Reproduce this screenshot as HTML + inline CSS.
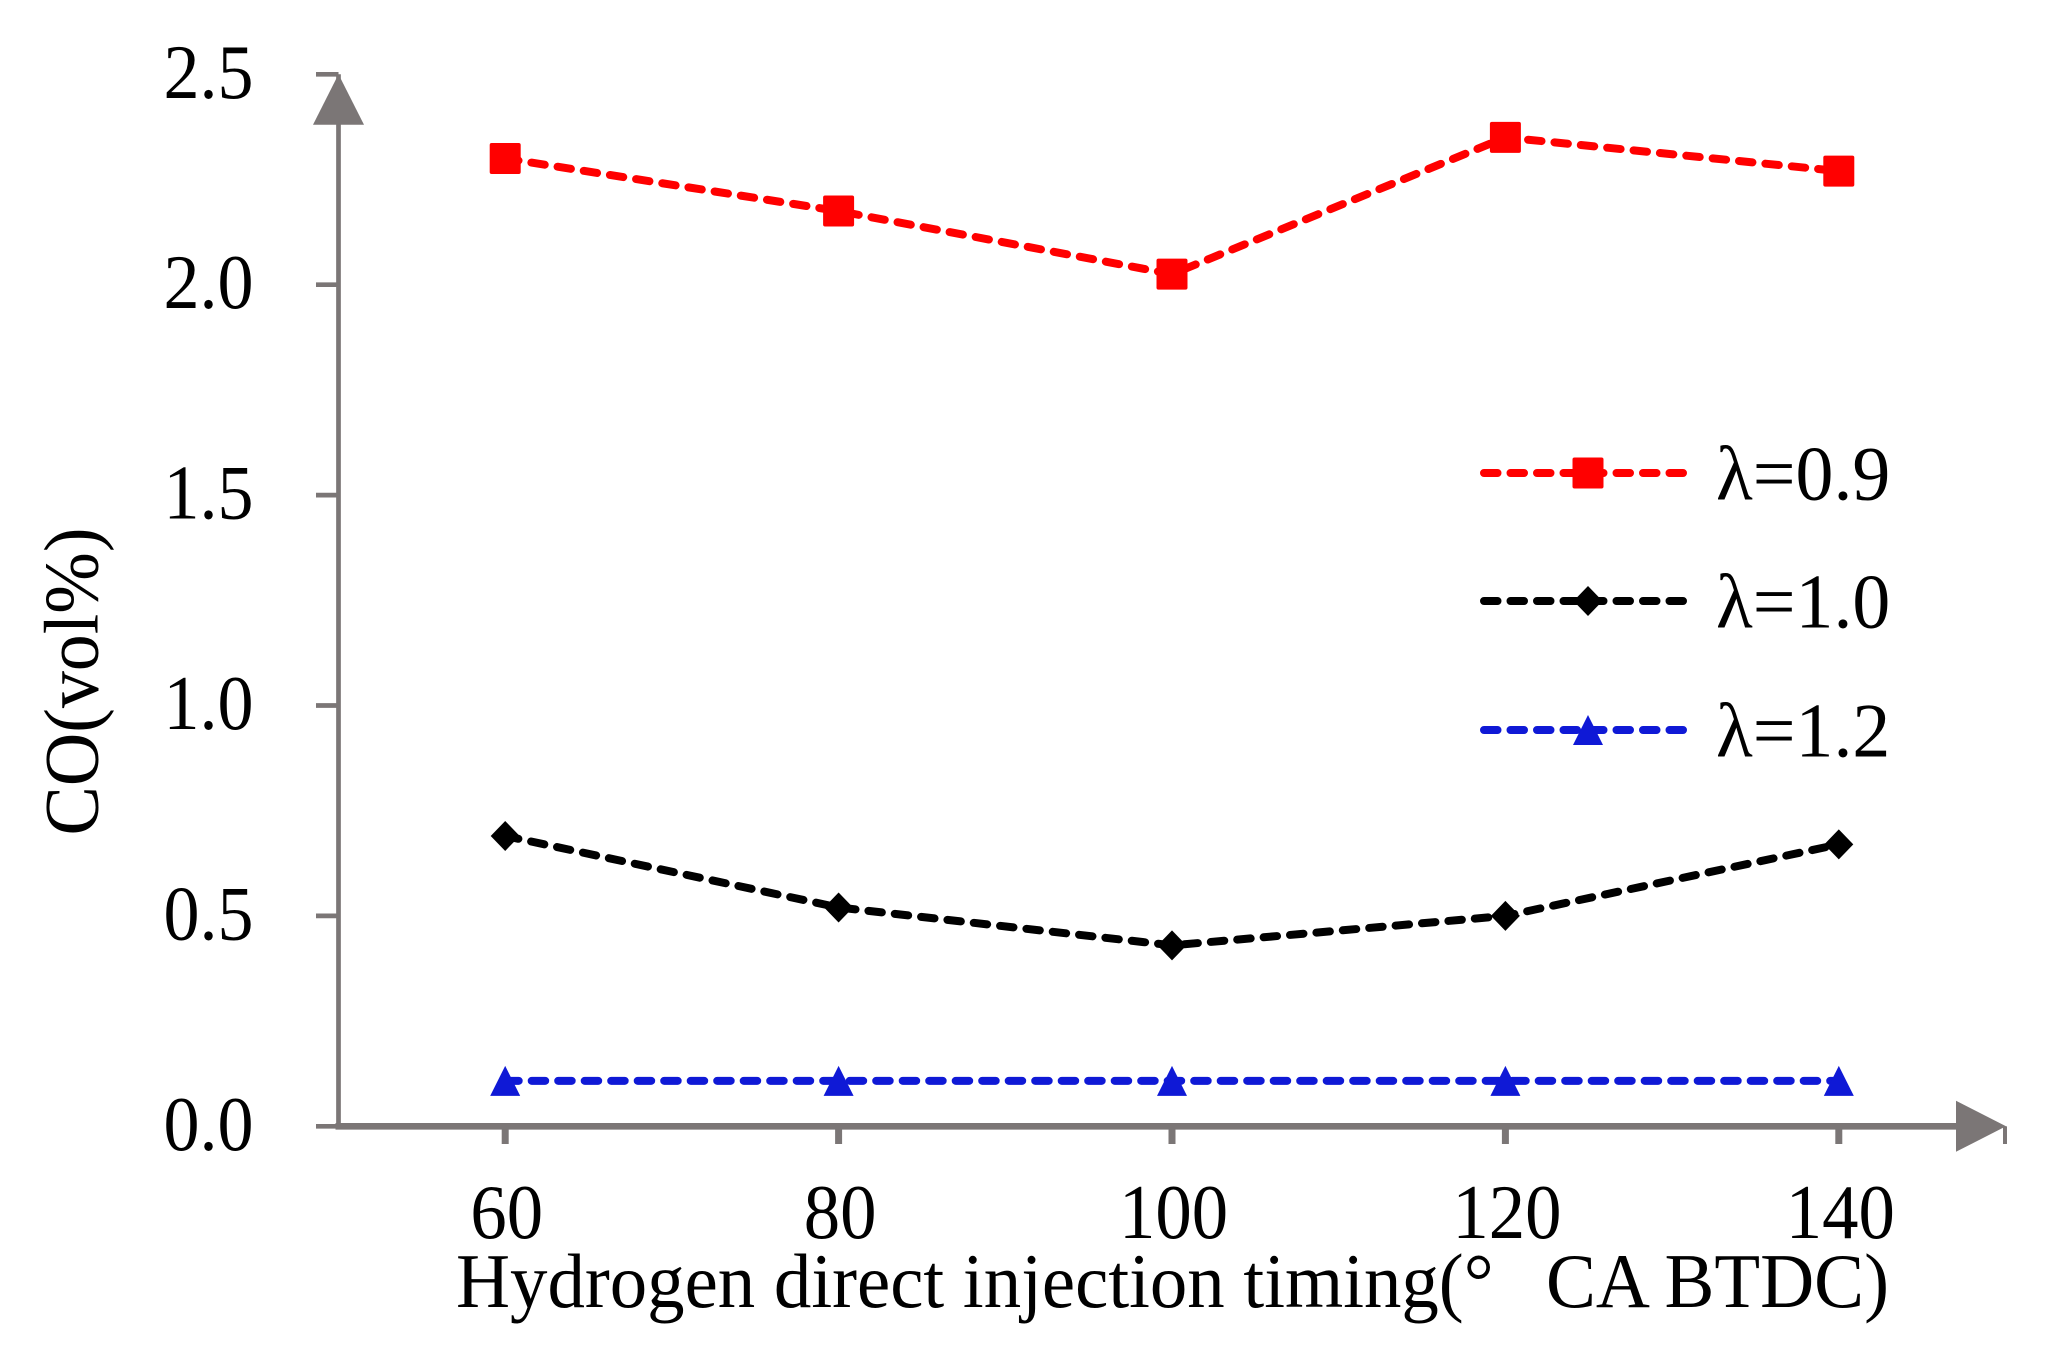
<!DOCTYPE html>
<html>
<head>
<meta charset="utf-8">
<title>CO vs hydrogen direct injection timing</title>
<style>
html,body{margin:0;padding:0;background:#fff;}
svg{display:block;}
text{font-family:"Liberation Serif","Noto Serif CJK SC",serif;fill:#000;white-space:pre;}
</style>
</head>
<body>
<svg id="chart" xmlns="http://www.w3.org/2000/svg" width="2055" height="1357" viewBox="0 0 2055 1357"></svg>
<script>
const categories = [60, 80, 100, 120, 140];
const seriesLambda09 = [2.30, 2.175, 2.025, 2.35, 2.27];
const seriesLambda10 = [0.69, 0.52, 0.43, 0.50, 0.67];
const seriesLambda12 = [0.108, 0.108, 0.108, 0.108, 0.108];
const yTickLabels = ["0.0", "0.5", "1.0", "1.5", "2.0", "2.5"];
const xTickLabels = ["60", "80", "100", "120", "140"];
const xDomain = [50, 150];
const yDomain = [0, 2.5];

const NS = "http://www.w3.org/2000/svg";
const svg = document.getElementById("chart");
const AXIS = "#7b7676";
const left = 338.5, right = 2005.5, top0 = 74.3, bottom = 1126.3;
function xs(v){ return left + (v - xDomain[0]) / (xDomain[1] - xDomain[0]) * (right - left); }
function ys(v){ return bottom - (v - yDomain[0]) / (yDomain[1] - yDomain[0]) * (bottom - top0); }
function mk(tag, attrs, parent){
  const e = document.createElementNS(NS, tag);
  for (const k in attrs) e.setAttribute(k, attrs[k]);
  (parent || svg).appendChild(e);
  return e;
}
function marker(kind, cx, cy, color, parent){
  let e;
  if (kind === "square") {
    e = mk("rect", {x: cx - 15.5, y: cy - 15.5, width: 31, height: 31, rx: 2, fill: color}, parent);
  } else if (kind === "diamond") {
    e = mk("polygon", {points: [cx, cy - 15, cx + 14.5, cy, cx, cy + 15, cx - 14.5, cy].join(" "), fill: color}, parent);
  } else {
    e = mk("polygon", {points: [cx, cy - 15, cx + 15, cy + 15, cx - 15, cy + 15].join(" "), fill: color}, parent);
  }
  return e;
}

// Y axis
const yAxis = mk("line", {x1: left, y1: top0, x2: left, y2: bottom, stroke: AXIS, "stroke-width": 4.7});


const yArrow = mk("polygon", {points: [left, top0, left + 25.5, top0 + 50.5, left - 25.5, top0 + 50.5].join(" "), fill: AXIS});



yTickLabels.forEach(function(lab){
  const v = parseFloat(lab);
  const t = mk("line", {x1: 316, y1: ys(v), x2: left, y2: ys(v), stroke: AXIS, "stroke-width": 4.7});
  
  
  const l = mk("text", {"text-anchor": "end", "font-size": 77, transform: "translate(253.5 " + (ys(v) + 23.5) + ") scale(0.935 1)"});
  l.textContent = lab;
  
  
});

// X axis
const xAxis = mk("line", {x1: left - 3, y1: bottom, x2: right - 48, y2: bottom, stroke: AXIS, "stroke-width": 6.7});


const xArrow = mk("polygon", {points: [right - 49.5, bottom - 25.5, right + 0.5, bottom, right - 49.5, bottom + 25.5].join(" "), fill: AXIS});



xTickLabels.forEach(function(lab){
  const v = parseFloat(lab);
  const t = mk("line", {x1: xs(v), y1: bottom, x2: xs(v), y2: 1144, stroke: AXIS, "stroke-width": 7});
  
  
  const l = mk("text", {"text-anchor": "middle", "font-size": 77, transform: "translate(" + (xs(v) + 1.5) + " 1238) scale(0.945 1)"});
  l.textContent = lab;
  
  
});
const endTick = mk("line", {x1: right - 0.5, y1: bottom, x2: right - 0.5, y2: 1144, stroke: AXIS, "stroke-width": 4});



// Axis titles
const xTitle = mk("text", {x: 456, y: 1307, "font-size": 77, textLength: 1433, lengthAdjust: "spacingAndGlyphs"});
xTitle.textContent = "Hydrogen direct injection timing(\u00b0\u00a0\u00a0\u2009CA BTDC)";


const yTitle = mk("text", {"font-size": 77, "text-anchor": "middle", transform: "translate(97.5 681.5) rotate(-90) scale(0.96 1)"});
yTitle.textContent = "CO(vol%)";



// Series
const dash = "13.5 13";
function drawSeries(values, color, kind){
  const g = mk("g", {});
  const pts = values.map(function(v, i){ return xs(categories[i]) + "," + ys(v); }).join(" ");
  const line = mk("polyline", {points: pts, fill: "none", stroke: color, "stroke-width": 8, "stroke-dasharray": dash, "stroke-linecap": "round", "stroke-linejoin": "round"}, g);
  
  
  values.forEach(function(v, i){
    const m = marker(kind, xs(categories[i]), ys(v), color, g);
    
    
  });
  return g;
}
const s1 = drawSeries(seriesLambda09, "#ff0000", "square");


const s2 = drawSeries(seriesLambda10, "#000000", "diamond");


const s3 = drawSeries(seriesLambda12, "#0f19d6", "triangle");



// Legend
function legendEntry(label, color, kind, cy){
  const g = mk("g", {});
  const line = mk("line", {x1: 1484, y1: cy, x2: 1684, y2: cy, stroke: color, "stroke-width": 8, "stroke-dasharray": dash, "stroke-linecap": "round"}, g);
  
  
  const m = marker(kind, 1588, cy, color, g);
  
  
  const t = mk("text", {"font-size": 77, transform: "translate(1716 " + (cy + 26.5) + ") scale(0.985 1)"}, g);
  t.textContent = label;
  
  
  return g;
}
const l1 = legendEntry("\u03bb=0.9", "#ff0000", "square", 473);


const l2 = legendEntry("\u03bb=1.0", "#000000", "diamond", 601);


const l3 = legendEntry("\u03bb=1.2", "#0f19d6", "triangle", 730);


</script>
</body>
</html>
